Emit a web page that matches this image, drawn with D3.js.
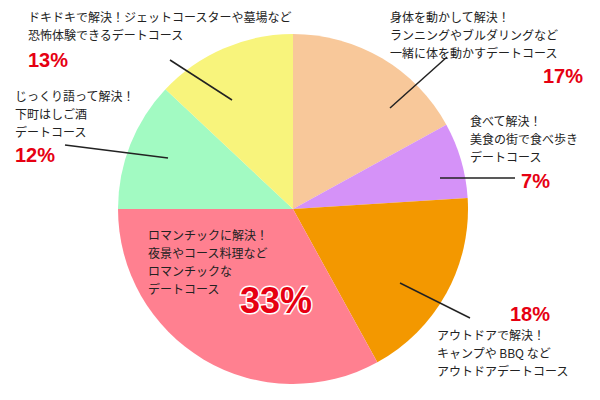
<!DOCTYPE html>
<html><head><meta charset="utf-8">
<script src="https://cdn.jsdelivr.net/npm/d3@7"></script>
<style>body{margin:0;background:#fff}</style></head>
<body><svg id="c" width="600" height="400"></svg>
<script>
const categories=["身体を動かして解決！","食べて解決！","アウトドアで解決！","ロマンチックに解決！","じっくり語って解決！","ドキドキで解決！"];
const values=[17,7,18,33,12,13];
const colors=["#f8c89a","#d592f8","#f39800","#ff8090","#a2fac2","#f8f47c"];
const labelLines=[
 ["身体を動かして解決！","ランニングやブルダリングなど","一緒に体を動かすデートコース"],
 ["食べて解決！","美食の街で食べ歩き","デートコース"],
 ["アウトドアで解決！","キャンプや BBQ など","アウトドアデートコース"],
 ["ロマンチックに解決！","夜景やコース料理など","ロマンチックな","デートコース"],
 ["じっくり語って解決！","下町はしご酒","デートコース"],
 ["ドキドキで解決！ジェットコースターや墓場など","恐怖体験できるデートコース"]
];
const svg=d3.select("#c");
const cx=293,cy=209,r=175;
const pie=d3.pie().sort(null).value(d=>d)(values);
const arc=d3.arc().innerRadius(0).outerRadius(r);
const g=svg.append("g").attr("transform",`translate(${cx},${cy})`);
g.selectAll("path").data(pie).join("path").attr("d",arc).attr("fill",(d,i)=>colors[i]);
// layout: text x, first line y, line step, pct x, pct y, pct anchor, leader line
const L=[
 {tx:390,ty:22,px:583,py:83,pa:"end",ln:[[447,57],[390,108]]},
 {tx:470,ty:126,px:550,py:188,pa:"end",ln:[[515,178],[440,178]]},
 {tx:437,ty:340,px:510,py:321,pa:"start",ln:[[470,318],[400,283]]},
 {tx:148,ty:240,px:240,py:313,pa:"start",big:true},
 {tx:15,ty:101,px:15,py:162,pa:"start",ln:[[65,145],[168,158]]},
 {tx:28,ty:22,px:28,py:67,pa:"start",ln:[[170,60],[232,100]]}
];
const font="'Noto Sans CJK JP',sans-serif";
L.forEach((o,i)=>{
 if(o.ln) svg.append("path").attr("d",d3.line()(o.ln)).attr("stroke","#222").attr("stroke-width",1.5).attr("fill","none");
 labelLines[i].forEach((t,j)=>svg.append("text").attr("x",o.tx).attr("y",o.ty+j*18).attr("font-family",font).attr("font-size",12).attr("fill","#222").text(t));
 const p=svg.append("text").attr("x",o.px).attr("y",o.py).attr("text-anchor",o.pa).attr("font-family","Arial,'Liberation Sans',sans-serif").attr("font-weight","bold").attr("fill","#e60012").text(values[i]+"%");
 if(o.big) p.attr("font-size",36).attr("stroke","#fff").attr("stroke-width",3).attr("paint-order","stroke");
 else p.attr("font-size",20);
});
</script></body></html>
